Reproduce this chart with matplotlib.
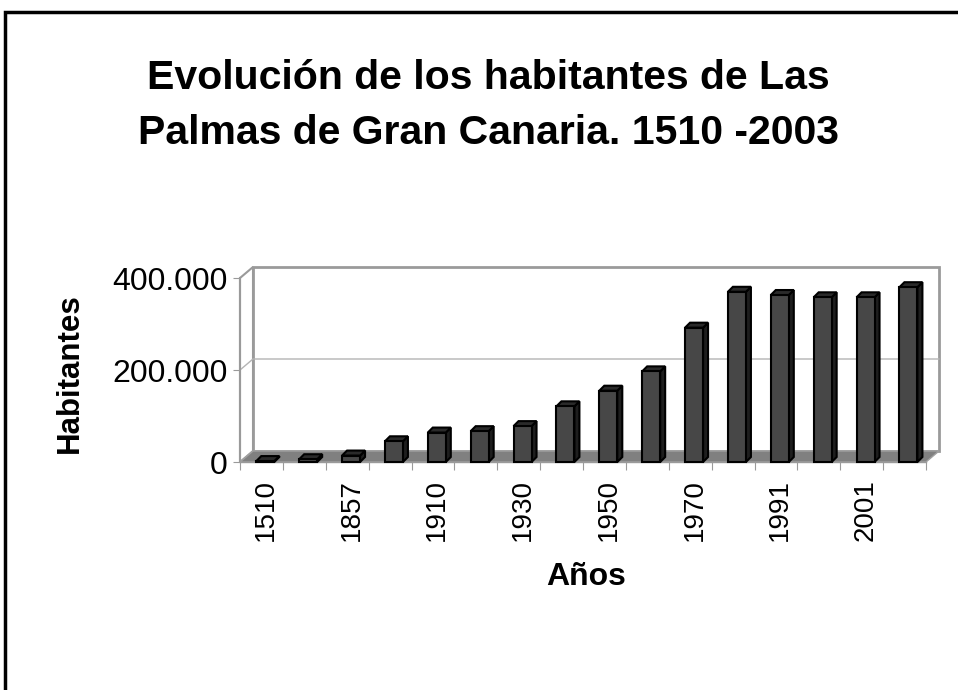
import matplotlib
matplotlib.use("Agg")
import matplotlib.pyplot as plt
from matplotlib.patches import Polygon, Rectangle

plt.rcParams['font.family'] = ['Liberation Sans', 'DejaVu Sans']

# Data
years = ["1510", "1742", "1857", "1900", "1910", "1920", "1930", "1940",
         "1950", "1960", "1970", "1981", "1991", "1996", "2001", "2003"]
habitantes = [2000, 6000, 14000, 45000, 64000, 67000, 78000, 121000,
              155000, 197000, 292000, 370000, 363000, 358000, 358000, 380000]
yticks = [0, 200000, 400000]
ytick_labels = ["0", "200.000", "400.000"]

W, H = 958, 690
fig = plt.figure(figsize=(W / 100, H / 100), dpi=100)

# front plot rectangle in pixels
x0p, x1p, y0p, y1p = 240, 926, 462, 278
ax = fig.add_axes([x0p / W, 1 - y0p / H, (x1p - x0p) / W, (y0p - y1p) / H])
n = len(years)
ymax = 400000
ax.set_xlim(0, n)
ax.set_ylim(0, ymax)

px_x = (x1p - x0p) / n
px_y = (y0p - y1p) / ymax
DX, DY = 13 / px_x, 11 / px_y          # depth of the box
bx, by = 5 / px_x, 5 / px_y            # depth of each bar
wall = "#9a9a9a"

# left side wall and back wall
ax.add_patch(Polygon([(0, 0), (DX, DY), (DX, ymax + DY), (0, ymax)],
                     closed=True, fc="white", ec=wall, lw=1.5, clip_on=False))
ax.add_patch(Rectangle((DX, DY), n, ymax, fc="white", ec=wall, lw=2,
                       clip_on=False))
# gridline
for v in yticks[1:-1]:
    ax.plot([0, DX, n + DX], [v, v + DY, v + DY], color="#b4b4b4", lw=1,
            clip_on=False)
# floor
ax.add_patch(Polygon([(0, 0), (n, 0), (n + DX, DY), (DX, DY)], closed=True,
                     fc="#808080", ec="#a0a0a0", lw=1, clip_on=False))

# bars
bw, off = 0.42, 0.38
for i, v in enumerate(habitantes):
    xl = i + off
    xr = xl + bw
    ax.add_patch(Polygon([(xr, 0), (xr + bx, by), (xr + bx, v + by), (xr, v)],
                         closed=True, fc="#1e1e1e", ec="black", lw=1.5,
                         clip_on=False, zorder=3))
    ax.add_patch(Polygon([(xl, v), (xr, v), (xr + bx, v + by), (xl + bx, v + by)],
                         closed=True, fc="#2a2a2a", ec="black", lw=1.5,
                         clip_on=False, zorder=3))
    ax.add_patch(Rectangle((xl, 0), bw, v, fc="#474747", ec="black", lw=1.5,
                           clip_on=False, zorder=4))

for s in ["top", "right"]:
    ax.spines[s].set_visible(False)
ax.spines["left"].set_color(wall)
ax.spines["bottom"].set_color(wall)
ax.spines["left"].set_linewidth(1.5)
ax.spines["bottom"].set_linewidth(1)
ax.patch.set_alpha(0)

ax.set_yticks(yticks)
ax.set_yticklabels(ytick_labels, fontsize=23)
ax.tick_params(axis="y", length=5, color=wall, pad=4)

ax.set_xticks(range(n + 1))
ax.set_xticklabels([""] * (n + 1))
ax.tick_params(axis="x", which="major", length=6, color=wall)
ax.set_xticks([i + 0.6 for i in range(0, n, 2)], minor=True)
ax.set_xticklabels(years[::2], minor=True, rotation=90, fontsize=20)
ax.tick_params(axis="x", which="minor", length=0, pad=12)

fig.text(70 / W, 1 - 373 / H, "Habitantes", rotation=90, fontsize=22.5,
         fontweight="bold", ha="center", va="center")
fig.text(586 / W, 1 - 577 / H, "Años", fontsize=23, fontweight="bold",
         ha="center", va="center")
fig.text(488 / W, 1 - 78 / H, "Evolución de los habitantes de Las",
         fontsize=29.5, fontweight="bold", ha="center", va="center")
fig.text(488 / W, 1 - 133 / H, "Palmas de Gran Canaria. 1510 -2003",
         fontsize=29.5, fontweight="bold", ha="center", va="center")

# outer chart frame
fig.patches.append(Rectangle((5 / W, -0.1), 1.2, 1 - 12 / H + 0.1,
                             transform=fig.transFigure, fill=False,
                             ec="black", lw=2.5))

fig.savefig("out.png", dpi=100)
